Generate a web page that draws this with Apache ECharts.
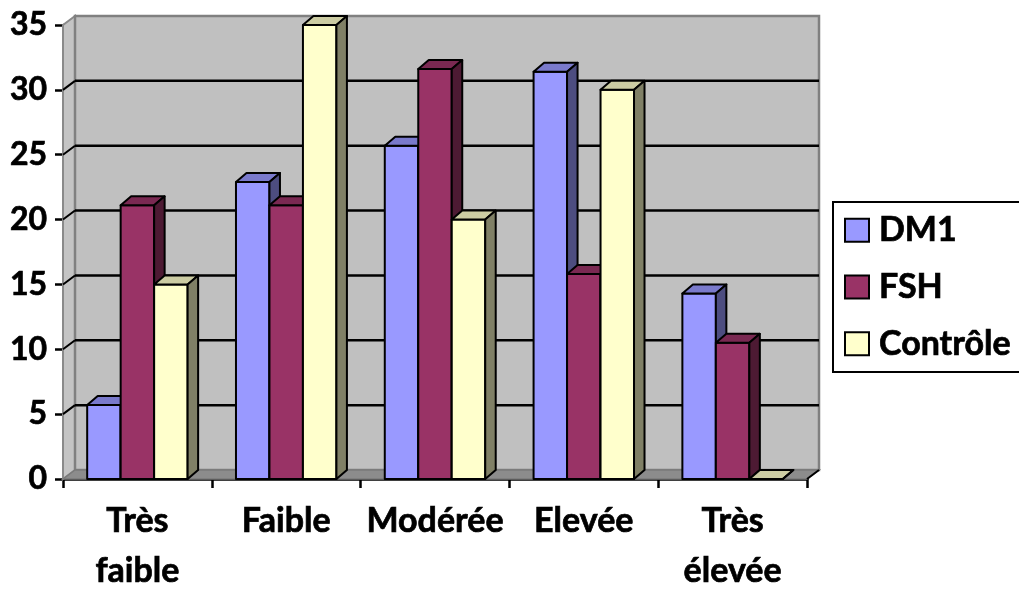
<!DOCTYPE html>
<html>
<head>
<meta charset="utf-8">
<script src="https://cdn.jsdelivr.net/npm/echarts@6/dist/echarts.min.js"></script>
<style>
  html, body { margin: 0; padding: 0; background: #fff; }
  #chart { width: 1019px; height: 589px; }
</style>
</head>
<body>
<div id="chart"></div>
<script>
// Activity level categories and the share (%) of each group in them
const categories = ['Très faible', 'Faible', 'Modérée', 'Elevée', 'Très élevée'];
const dm1 = [5.7, 22.9, 25.7, 31.4, 14.3];
const fsh = [21.1, 21.1, 31.6, 15.8, 10.5];
const controle = [15, 35, 20, 30, 0];
const seriesNames = ['DM1', 'FSH', 'Contrôle'];
const yTicks = [0, 5, 10, 15, 20, 25, 30, 35];

// Face colours for each series: front, top, side
const palette = [
  { front: '#9999FF', top: '#7A7ACC', side: '#4D4D80' },
  { front: '#993366', top: '#7A2952', side: '#4D1A33' },
  { front: '#FFFFCC', top: '#CCCCA3', side: '#808066' }
];

const FONT = 'Lato, "Open Sans", sans-serif';
// heavier strokes for the bold labels
const HEAVY = { textBorderColor: '#000', textBorderWidth: 0.7 };
const BAR_FRAC = 0.225;            // bar width as share of a category band
const BAR_DEPTH = [10.5, -9];      // projected depth of each column
const WALL_DEPTH = [12, -9];       // projected depth of the back wall

const chart = echarts.init(document.getElementById('chart'), null, { renderer: 'canvas' });

// Back wall, side wall, floor and gridlines of the 3-D box
function renderBox(params, api) {
  const cs = params.coordSys;
  const xl = cs.x, xr = cs.x + cs.width;
  const yt = cs.y, yb = cs.y + cs.height;
  const dx = WALL_DEPTH[0], dy = WALL_DEPTH[1];
  const children = [
    { type: 'polygon', shape: { points: [[xl, yt], [xl + dx, yt + dy], [xl + dx, yb + dy], [xl, yb]] },
      style: { fill: '#C4C4C4', stroke: '#8A8A8A', lineWidth: 2 } },
    { type: 'rect', shape: { x: xl + dx, y: yt + dy, width: cs.width, height: cs.height },
      style: { fill: '#C0C0C0', stroke: '#808080', lineWidth: 2.5 } },
    { type: 'polygon', shape: { points: [[xl, yb], [xl + dx, yb + dy], [xr + dx, yb + dy], [xr, yb]] },
      style: { fill: '#8C8C8C', stroke: '#7A7A7A', lineWidth: 1.5 } },
    { type: 'line', shape: { x1: xr, y1: yb, x2: xr + dx, y2: yb + dy },
      style: { stroke: '#000', lineWidth: 2 } }
  ];
  yTicks.forEach(function (v) {
    if (v === yTicks[0] || v === yTicks[yTicks.length - 1]) return;
    const y = api.coord([0, v])[1];
    children.push({ type: 'line', shape: { x1: xl + dx, y1: y + dy, x2: xr + dx, y2: y + dy },
      style: { stroke: '#000', lineWidth: 2.5 } });
    children.push({ type: 'line', shape: { x1: xl, y1: y, x2: xl + dx, y2: y + dy },
      style: { stroke: '#000', lineWidth: 2 } });
  });
  return { type: 'group', children: children };
}

// One 3-D column: front face, top face and right side face
function makeBarRenderer(index) {
  const c = palette[index];
  return function (params, api) {
    const cat = api.value(0);
    const val = api.value(1);
    const base = api.coord([cat, 0]);
    const topPt = api.coord([cat, val]);
    const band = api.size([1, 0])[0];
    const bw = band * BAR_FRAC;
    const x0 = base[0] - 1.5 * bw + index * bw;
    const x1 = x0 + bw;
    const yb = base[1], yt = topPt[1];
    const dx = BAR_DEPTH[0], dy = BAR_DEPTH[1];
    const edge = { stroke: '#000', lineWidth: 2, lineJoin: 'round' };
    return {
      type: 'group',
      children: [
        { type: 'rect', shape: { x: x0, y: yt, width: bw, height: yb - yt },
          style: Object.assign({ fill: c.front }, edge) },
        { type: 'polygon', shape: { points: [[x0, yt], [x1, yt], [x1 + dx, yt + dy], [x0 + dx, yt + dy]] },
          style: Object.assign({ fill: c.top }, edge) },
        { type: 'polygon', shape: { points: [[x1, yt], [x1 + dx, yt + dy], [x1 + dx, yb + dy], [x1, yb]] },
          style: Object.assign({ fill: c.side }, edge) }
      ]
    };
  };
}

const values = [dm1, fsh, controle];
const barSeries = seriesNames.map(function (name, i) {
  return {
    name: name,
    type: 'custom',
    z: 3 + i,
    itemStyle: { color: palette[i].front, borderColor: '#000', borderWidth: 2 },
    renderItem: makeBarRenderer(i),
    encode: { x: 0, y: 1 },
    data: values[i].map(function (v, k) { return [k, v]; })
  };
});

const option = {
  animation: false,
  backgroundColor: '#fff',
  grid: { left: 63, right: 212, top: 25, bottom: 110, outerBoundsMode: 'none', containLabel: false },
  legend: {
    orient: 'vertical',
    left: 833,
    top: 202,
    padding: [11, 12, 11, 11],
    itemWidth: 24,
    itemHeight: 23,
    itemGap: 22,
    backgroundColor: '#fff',
    borderColor: '#000',
    borderWidth: 2,
    borderRadius: 0,
    selectedMode: false,
    textStyle: Object.assign({ fontFamily: FONT, fontWeight: 'bold', fontSize: 34, color: '#000', padding: [0, 0, 0, 5] }, HEAVY),
    data: seriesNames.map(function (n, i) {
      return { name: n, icon: 'rect',
        itemStyle: { color: palette[i].front, borderColor: '#000', borderWidth: 2 } };
    })
  },
  xAxis: {
    type: 'category',
    data: categories,
    axisLine: { lineStyle: { color: '#000', width: 2.5 } },
    axisTick: { show: true, length: 9, lineStyle: { color: '#000', width: 2.5 } },
    axisLabel: Object.assign({
      margin: 17,
      fontFamily: FONT, fontWeight: 'bold', fontSize: 34, color: '#000', lineHeight: 50,
      interval: 0,
      formatter: function (s) { return s.replace(' ', '\n'); }
    }, HEAVY),
    splitLine: { show: false }
  },
  yAxis: {
    type: 'value',
    min: yTicks[0],
    max: yTicks[yTicks.length - 1],
    interval: yTicks[1] - yTicks[0],
    axisLine: { show: true, lineStyle: { color: '#000', width: 2.5 } },
    axisTick: { show: true, length: 8, lineStyle: { color: '#000', width: 2.5 } },
    axisLabel: Object.assign({ margin: 16, fontFamily: FONT, fontWeight: 'bold', fontSize: 32, color: '#000' }, HEAVY),
    splitLine: { show: false }
  },
  series: [
    {
      name: 'box',
      type: 'custom',
      z: 1,
      silent: true,
      renderItem: renderBox,
      encode: { x: 0, y: 1 },
      data: [[0, 0]]
    }
  ].concat(barSeries)
};

chart.setOption(option);
</script>
</body>
</html>
